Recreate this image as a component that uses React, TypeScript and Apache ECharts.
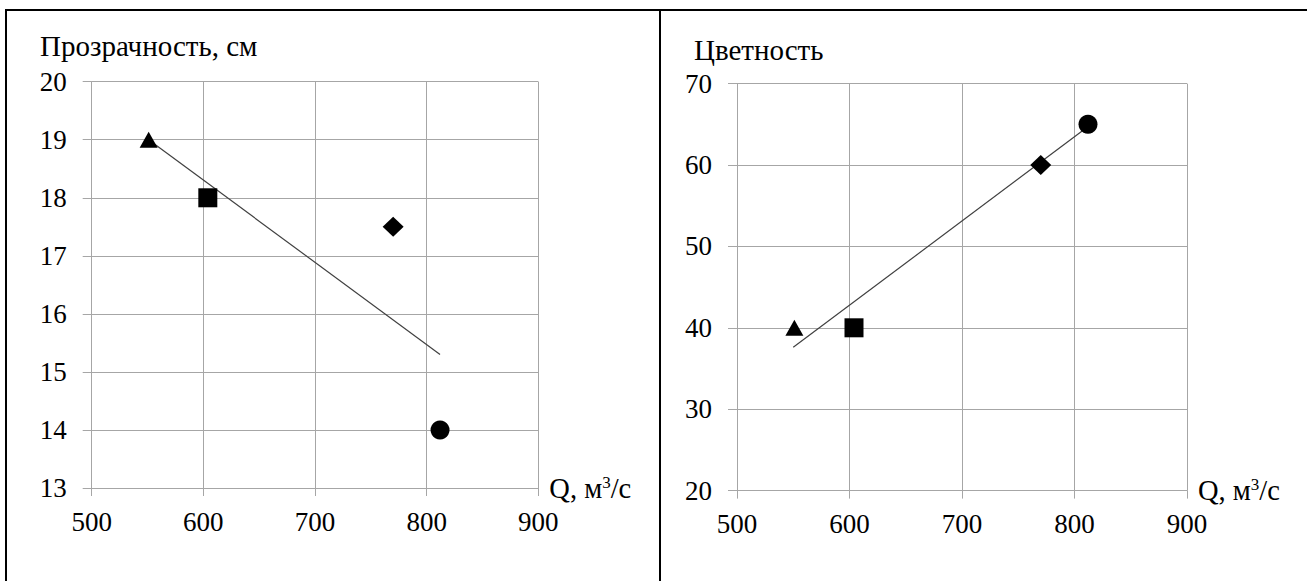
import React, { useEffect, useRef } from "react";
import * as echarts from "echarts";

// ---- data ----
const flowQ = [551, 604, 770, 812];
const transparency = [19, 18, 17.5, 14];
const colourIndex = [40, 40, 60, 65];
const transparencyTrendQ = [551, 812];
const transparencyTrendY = [19.0, 15.3];
const colourTrendQ = [550, 808];
const colourTrendY = [37.6, 64.3];
const xRange = { min: 500, max: 900, interval: 100 };
const leftYRange = { min: 13, max: 20, interval: 1 };
const rightYRange = { min: 20, max: 70, interval: 10 };
const leftTitle = "Прозрачность, см";
const rightTitle = "Цветность";

// ---- styles ----
const FONT = "Liberation Serif";
const FS = 27;
const TFS = 29;
const GRID_COLOR = "#a6a6a6";
const markerStyles = [
  { symbol: "triangle", symbolSize: [18, 16] },
  { symbol: "rect", symbolSize: [19, 19] },
  { symbol: "diamond", symbolSize: [21, 20] },
  { symbol: "circle", symbolSize: [19, 19] },
];

function xAxisDef(gridIndex: number) {
  return {
    type: "value",
    gridIndex,
    min: xRange.min,
    max: xRange.max,
    interval: xRange.interval,
    name: "{a|Q, м}{s|3}{a|/с}",
    nameLocation: "end",
    nameGap: 11,
    nameTextStyle: {
      rich: {
        a: { fontFamily: FONT, fontSize: 28.5, color: "#000", verticalAlign: "bottom" },
        s: { fontFamily: FONT, fontSize: 17, color: "#000", verticalAlign: "top" },
      },
    },
    axisLine: { show: true, lineStyle: { color: GRID_COLOR, width: 1 } },
    axisTick: { show: true, length: 8, lineStyle: { color: GRID_COLOR, width: 1 } },
    axisLabel: { margin: 20, fontFamily: FONT, fontSize: FS, color: "#000" },
    splitLine: { show: true, lineStyle: { color: GRID_COLOR, width: 1 } },
  };
}

function yAxisDef(gridIndex: number, r: { min: number; max: number; interval: number }) {
  return {
    type: "value",
    gridIndex,
    min: r.min,
    max: r.max,
    interval: r.interval,
    axisLine: { show: true, lineStyle: { color: GRID_COLOR, width: 1 } },
    axisTick: { show: true, length: 9, lineStyle: { color: GRID_COLOR, width: 1 } },
    axisLabel: { margin: 25, fontFamily: FONT, fontSize: FS, color: "#000" },
    splitLine: { show: true, lineStyle: { color: GRID_COLOR, width: 1 } },
  };
}

function pointsSeries(idx: number, ys: number[]) {
  return {
    type: "scatter",
    xAxisIndex: idx,
    yAxisIndex: idx,
    z: 3,
    itemStyle: { color: "#000", opacity: 1 },
    data: flowQ.map((q, i) => ({
      value: [q, ys[i]],
      symbol: markerStyles[i].symbol,
      symbolSize: markerStyles[i].symbolSize,
    })),
  };
}

function trendSeries(idx: number, qs: number[], ys: number[]) {
  return {
    type: "line",
    xAxisIndex: idx,
    yAxisIndex: idx,
    z: 2,
    symbol: "none",
    lineStyle: { color: "#404040", width: 1.2 },
    data: qs.map((q, i) => [q, ys[i]]),
  };
}

export default function App() {
  const ref = useRef<HTMLDivElement>(null);
  useEffect(() => {
    if (!ref.current) return;
    const chart = echarts.init(ref.current, null, { renderer: "svg" });
    chart.setOption({
      animation: false,
      backgroundColor: "#fff",
      textStyle: { fontFamily: FONT },
      title: [
        {
          text: leftTitle,
          left: 40,
          top: 31,
          padding: 0,
          textStyle: { fontFamily: FONT, fontSize: TFS, fontWeight: "normal", color: "#000" },
        },
        {
          text: rightTitle,
          left: 694,
          top: 35,
          padding: 0,
          textStyle: { fontFamily: FONT, fontSize: TFS, fontWeight: "normal", color: "#000" },
        },
      ],
      grid: [
        { left: 91.7, top: 81.7, width: 446.6, height: 406.3 },
        { left: 737, top: 83.6, width: 450, height: 407 },
      ],
      xAxis: [xAxisDef(0), xAxisDef(1)],
      yAxis: [yAxisDef(0, leftYRange), yAxisDef(1, rightYRange)],
      series: [
        trendSeries(0, transparencyTrendQ, transparencyTrendY),
        pointsSeries(0, transparency),
        trendSeries(1, colourTrendQ, colourTrendY),
        pointsSeries(1, colourIndex),
      ],
      graphic: [
        { type: "line", shape: { x1: 5, y1: 10, x2: 1307, y2: 10 }, style: { stroke: "#000", lineWidth: 2 } },
        { type: "line", shape: { x1: 6, y1: 9, x2: 6, y2: 581 }, style: { stroke: "#000", lineWidth: 2 } },
        { type: "line", shape: { x1: 660, y1: 9, x2: 660, y2: 581 }, style: { stroke: "#000", lineWidth: 2 } },
      ],
    });
    return () => chart.dispose();
  }, []);
  return (
    <div
      ref={ref}
      style={{ position: "fixed", left: 0, top: 0, width: 1307, height: 581 }}
    />
  );
}
